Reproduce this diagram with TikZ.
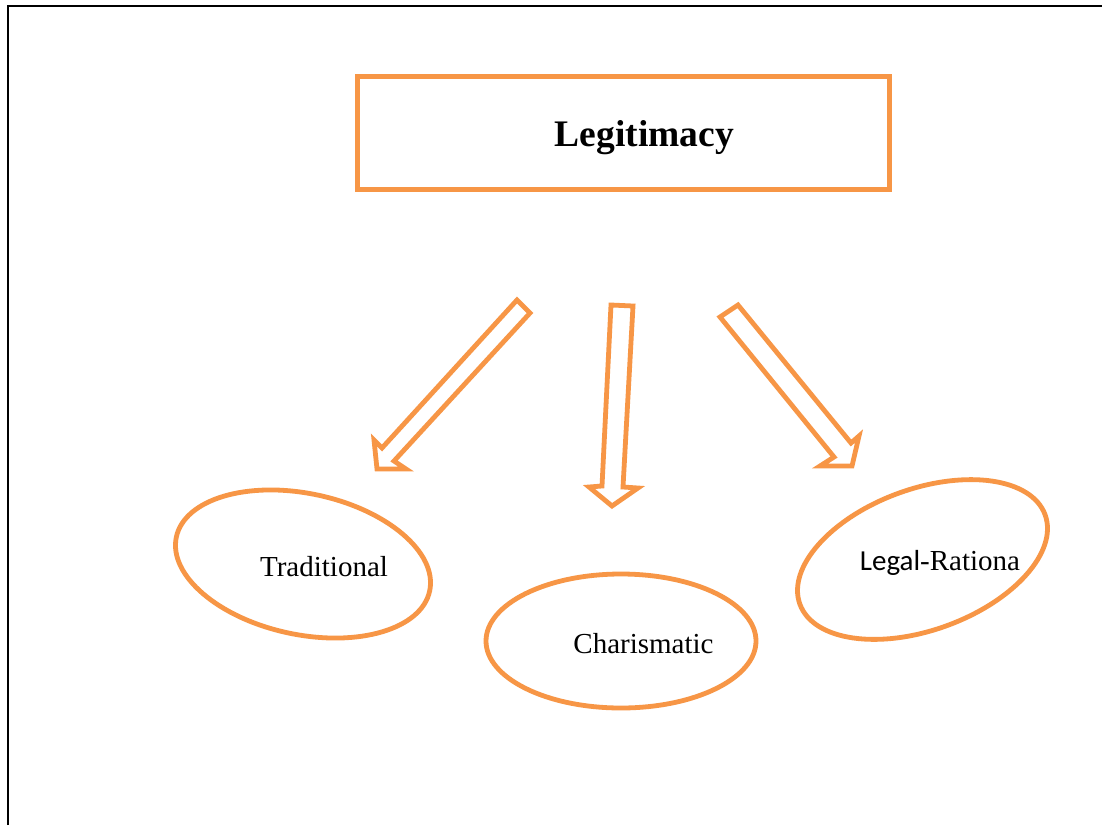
\documentclass[tikz,border=0pt]{standalone}
\usepackage{fontspec}
\setmainfont{Liberation Serif}
\newfontfamily\calfont{Carlito}
\usetikzlibrary{shapes.geometric}
\definecolor{accent}{HTML}{F79646}
\begin{document}
\begin{tikzpicture}[x=1pt,y=-1pt,
  orangeline/.style={draw=accent,line width=4.8pt,line join=miter},
  oval/.style={orangeline,ellipse,inner sep=0pt},
  blockarrow/.style={orangeline,fill=white},
  label/.style={anchor=base,inner sep=0pt,font=\fontsize{29}{34}\selectfont}]
\useasboundingbox (0,0) rectangle (1102,825);
\fill[white] (0,0) rectangle (1102,825);
% page frame
\draw[line width=2pt] (8,825) -- (8,6) -- (1102,6);
% title box
\node[orangeline,minimum width=532pt,minimum height=113pt,inner sep=0pt] (box) at (623.5,133) {};
\node[anchor=base,inner sep=0pt,font=\fontsize{37.5}{42}\selectfont\bfseries] (title) at (644.5,146) {Legitimacy};
% block arrows
\draw[blockarrow] (517,300) -- (530,313) -- (394,461) -- (406,469) -- (377,469) -- (374,440) -- (382,448) -- cycle;
\draw[blockarrow] (611,305) -- (633,306) -- (623,487) -- (638,488) -- (612,506) -- (589,487) -- (602,486) -- cycle;
\draw[blockarrow] (738,305) -- (851,443) -- (859,436) -- (852,466) -- (820,466) -- (834,457) -- (720,317) -- cycle;
% ovals
\node[oval,minimum width=259pt,minimum height=141pt,rotate=-12] (trad) at (303,564) {};
\node[oval,minimum width=270pt,minimum height=134pt] (char) at (621,641) {};
\node[oval,minimum width=261pt,minimum height=141pt,rotate=20] (legal) at (922.5,559.5) {};
% labels
\node[label] (tradtext) at (324,576) {Traditional};
\node[label] (chartext) at (643.5,653) {Charismatic};
\node[label] (legaltext) at (940,570) {{\calfont Legal}-Rationa};
\end{tikzpicture}
\end{document}
